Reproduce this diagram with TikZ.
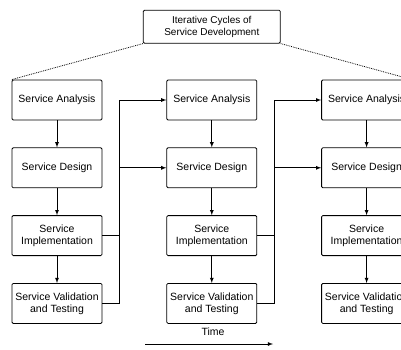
\documentclass[tikz,border=0pt]{standalone}
\usepackage{fontspec}
\setmainfont{Liberation Sans}
\usepackage{tikz}
\usetikzlibrary{arrows,positioning}

\begin{document}
\begin{tikzpicture} [
      x = 1pt, y = -1pt,
      node distance = 27pt and 64pt,
      every node/.style = { inner sep = 1pt, font = \fontsize{10.5}{12}\selectfont, align = center },
      box/.style = { draw, line width = 0.8pt, rounded corners = 1.2pt, minimum width = 90pt, minimum height = 40pt },
      topbox/.style = { box, minimum width = 137pt, minimum height = 33pt, font = \fontsize{10}{11.5}\selectfont },
      link/.style = { line width = 0.8pt, -latex }
      ]
      \useasboundingbox (0,0) rectangle (401,350);
      \clip (0,0) rectangle (401,350);

      % first cycle
      \node [box] (a1) at (57,100) {Service Analysis};
      \node [box] (d1) [below = of a1] {Service Design};
      \node [box] (i1) [below = of d1] {Service\\Implementation};
      \node [box] (v1) [below = of i1] {Service Validation\\and Testing};

      % second cycle
      \node [box] (a2) [right = of a1] {Service Analysis};
      \node [box] (d2) [below = of a2] {Service Design};
      \node [box] (i2) [below = of d2] {Service\\Implementation};
      \node [box] (v2) [below = of i2] {Service Validation\\and Testing};

      % third cycle
      \node [box] (a3) [right = of a2] {Service Analysis};
      \node [box] (d3) [below = of a3] {Service Design};
      \node [box] (i3) [below = of d3] {Service\\Implementation};
      \node [box] (v3) [below = of i3] {Service Validation\\and Testing};

      \node [topbox] (cycles) [above = 36pt of a2] {Iterative Cycles of\\Service Development};
      \draw [densely dotted, line width = 0.8pt] (cycles.south west) -- (a1.north west);
      \draw [densely dotted, line width = 0.8pt] (cycles.south east) -- (a3.north east);

      \draw [link] (a1) -- (d1);
      \draw [link] (d1) -- (i1);
      \draw [link] (i1) -- (v1);
      \draw [link] (a2) -- (d2);
      \draw [link] (d2) -- (i2);
      \draw [link] (i2) -- (v2);
      \draw [link] (a3) -- (d3);
      \draw [link] (d3) -- (i3);
      \draw [link] (i3) -- (v3);

      % feedback into the next cycle
      \draw [link] (v1.east) -- ++(17,0) |- (a2.west);
      \draw [link] (i1.east) -- ++(17,0) |- (d2.west);
      \draw [link] (v2.east) -- ++(17,0) |- (a3.west);
      \draw [link] (i2.east) -- ++(17,0) |- (d3.west);

      % time axis
      \node (time) at (213,332) {Time};
      \coordinate (tstart) at (145,344);
      \coordinate (tend) at (273,344);
      \draw [link] (tstart) -- (tend);
\end{tikzpicture}
\end{document}
